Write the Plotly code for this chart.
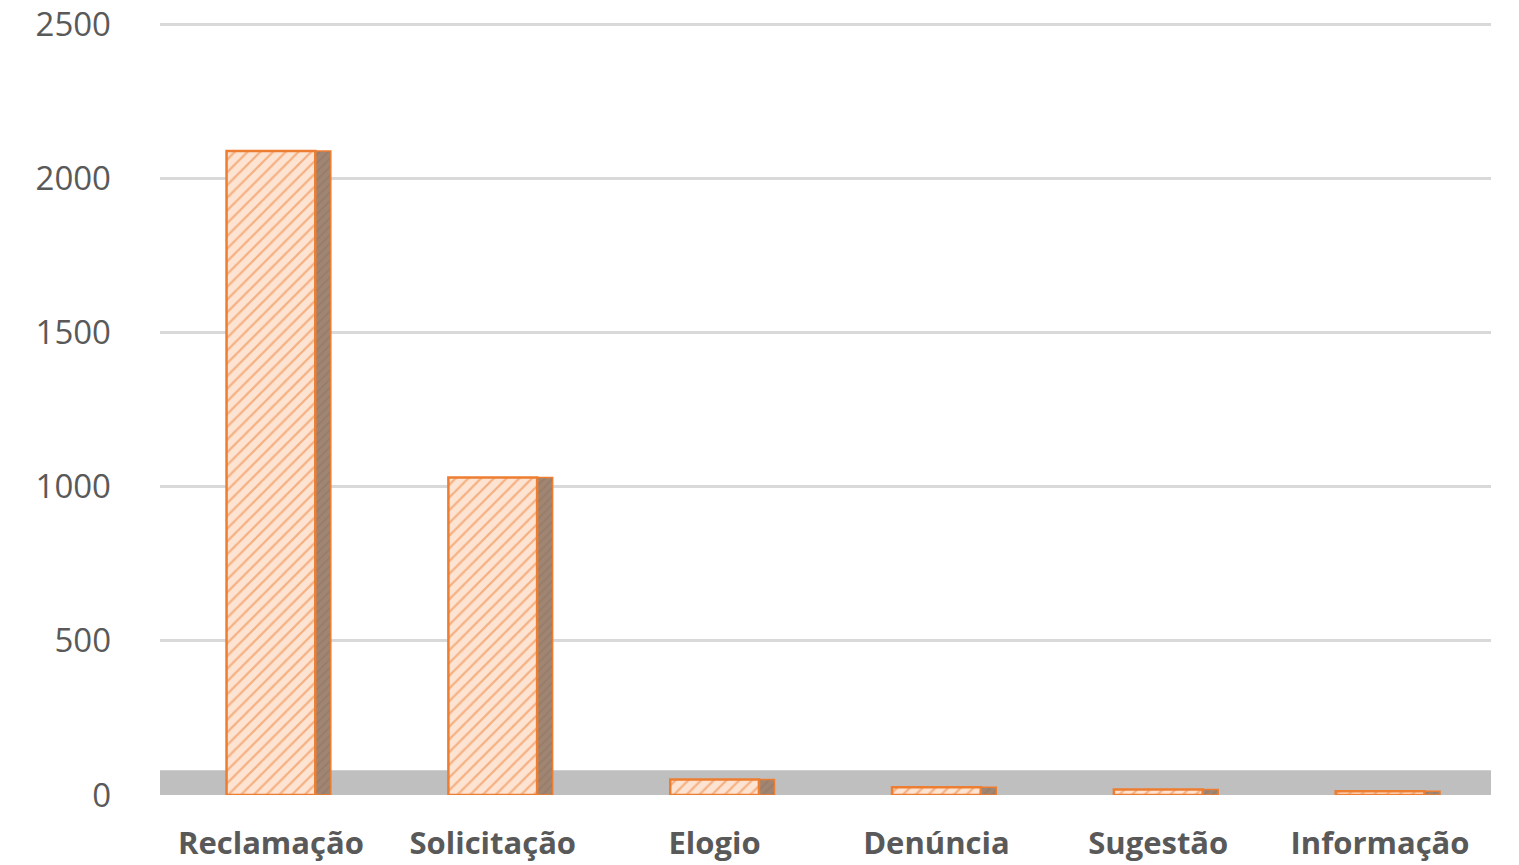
import plotly.graph_objects as go

categories = ["Reclamação", "Solicitação", "Elogio", "Denúncia", "Sugestão", "Informação"]
values = [2090, 1030, 50, 25, 18, 12]
tick_vals = [0, 500, 1000, 1500, 2000, 2500]
tick_text = ["0", "500", "1000", "1500", "2000", "2500"]

orange = "#ED7D31"
peach = "#FDE3D2"
side = "#A08672"

fig = go.Figure()
# side faces (3D look)
fig.add_trace(go.Bar(
    x=categories,
    y=values,
    width=0.07,
    offset=0.2,
    marker=dict(
        color=side,
        line=dict(color=orange, width=1.5),
        pattern=dict(shape="/", fgcolor="#8C7360", bgcolor=side, size=6, solidity=0.3),
    ),
    hoverinfo="skip",
))
# front faces
fig.add_trace(go.Bar(
    x=categories,
    y=values,
    width=0.4,
    offset=-0.2,
    marker=dict(
        color=peach,
        line=dict(color=orange, width=2.5),
        pattern=dict(shape="/", fgcolor=orange, bgcolor=peach, size=9, solidity=0.25),
    ),
))

# grey floor band
fig.add_shape(type="rect", xref="paper", yref="y", x0=0, x1=1, y0=0, y1=80,
              fillcolor="#BFBFBF", line=dict(width=0), layer="below")

fig.update_layout(
    width=1519, height=865,
    margin=dict(l=160, r=28, t=23, b=70),
    paper_bgcolor="white",
    plot_bgcolor="white",
    showlegend=False,
    barmode="overlay",
    font=dict(family="Open Sans, sans-serif", color="#595959"),
    xaxis=dict(
        showgrid=False, showline=False, ticks="",
        tickfont=dict(size=31, family="Open Sans", color="#595959", weight="bold"),
        ticklabelstandoff=27,
        automargin=False,
    ),
    yaxis=dict(
        range=[0, 2505],
        tickvals=tick_vals, ticktext=tick_text,
        showgrid=True, gridcolor="#D9D9D9", gridwidth=2.5,
        zeroline=False, showline=False, ticks="",
        tickfont=dict(size=33, color="#595959"),
        ticklabelstandoff=48,
        ticklabeloverflow="allow",
        automargin=False,
    ),
)

fig.write_html("out.html")
